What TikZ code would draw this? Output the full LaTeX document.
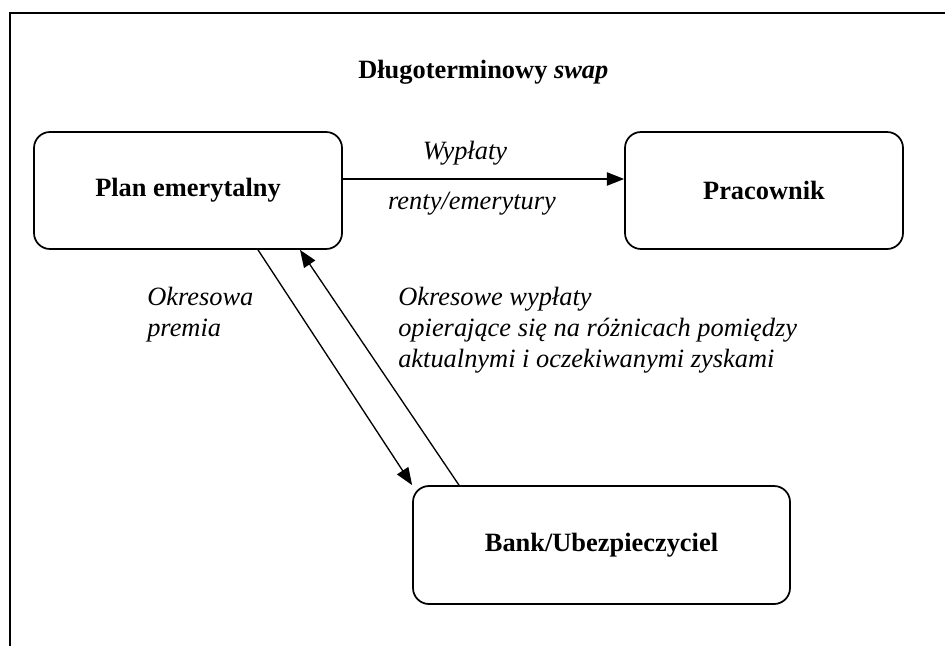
\documentclass[tikz,border=0pt]{standalone}
\usepackage{fontspec}
\setmainfont{Liberation Serif}
\usetikzlibrary{arrows.meta}
\begin{document}
\begin{tikzpicture}[x=0.75pt,y=-0.75pt,
  box/.style={draw,line width=1.3pt,rounded corners=12pt,align=center,
    font=\fontsize{19.8}{23.25}\selectfont\bfseries,inner sep=0pt},
  lab/.style={font=\fontsize{19.8}{23.25}\selectfont\itshape,inner sep=0pt},
  arr/.style={line width=1pt,-{Triangle[length=13pt,width=10pt]}},
  frame/.style={line width=1.6pt}]
\useasboundingbox (0,0) rectangle (945,646);
% outer frame
\coordinate (fbl) at (10,646);
\coordinate (ftl) at (10,13);
\coordinate (ftr) at (945,13);
\draw[frame] (fbl) -- (ftl) -- (ftr);
% title
\node[inner sep=0pt,anchor=west,font=\fontsize{19.8}{23.25}\selectfont\bfseries] (title) at (358,72) {Długoterminowy \textit{swap}};
% boxes
\node[box,minimum width=231pt,minimum height=87.75pt] (plan) at (188,190.5) {Plan emerytalny};
\node[box,minimum width=208.5pt,minimum height=87.75pt] (prac) at (764,190.5) {Pracownik};
\node[box,minimum width=282.75pt,minimum height=88.5pt] (bank) at (601.5,545) {Bank/Ubezpieczyciel};
% helper coordinates
\coordinate (hy) at (0,179);
\coordinate (dx) at (258,0);
\coordinate (ux1) at (459,0);
\coordinate (ux2) at (300,0);
% connectors
\draw[arr] (plan.east |- hy) -- (prac.west |- hy);
\draw[arr] (plan.south -| dx) -- (bank.north west);
\draw[arr] (bank.north -| ux1) -- (plan.south -| ux2);
% labels
\node[lab] (l1) at (465,153) {Wypłaty};
\node[lab] (l2) at (472,204) {renty/emerytury};
\node[lab,anchor=north west,align=left] (l3) at (147,287) {Okresowa\\premia};
\node[lab,anchor=north west,align=left] (l4) at (398,287) {Okresowe wypłaty\\opierające się na różnicach pomiędzy\\aktualnymi i oczekiwanymi zyskami};
\end{tikzpicture}
\end{document}
